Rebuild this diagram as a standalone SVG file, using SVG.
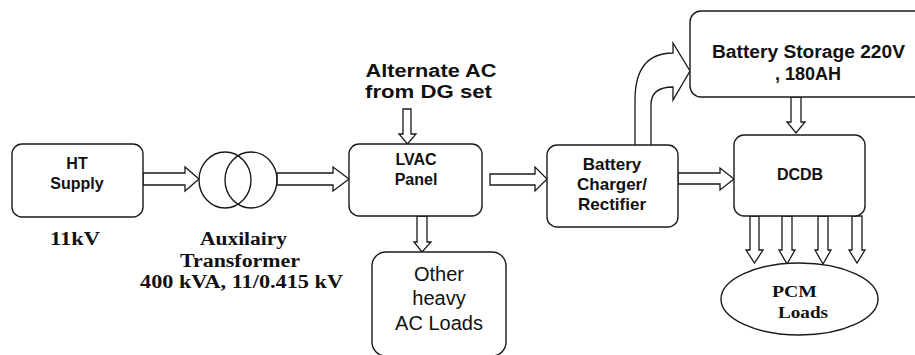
<svg xmlns="http://www.w3.org/2000/svg" width="915" height="355" viewBox="0 0 915 355">
<style>
.box{fill:#fff;stroke:#1a1a1a;stroke-width:1.4}
.arr{fill:#fff;stroke:#1a1a1a;stroke-width:1.3;stroke-linejoin:miter}
.sb{font-family:"Liberation Sans",Arial,sans-serif;font-weight:bold;fill:#111;text-anchor:middle}
.sr{font-family:"Liberation Sans",Arial,sans-serif;fill:#111;text-anchor:middle}
.tb{font-family:"Liberation Serif","Times New Roman",serif;font-weight:bold;fill:#111;text-anchor:middle}
</style>
<rect width="915" height="355" fill="#fff"/>
<g id="connectors">
<polygon class="arr" points="143,173 185,173 185,167 199,179 185,191 185,185 143,185"/>
<polygon class="arr" points="277,173 333,173 333,167 349,179 333,191 333,185 277,185"/>
<polygon class="arr" points="403,109 411,109 411,134 416,134 407.5,144 399,134 403,134"/>
<polygon class="arr" points="490,174 535,174 535,167 547,179 535,191 535,185 490,185"/>
<polygon class="arr" points="417,216 427,216 427,242 431,242 422,252 414,242 417,242"/>
<path class="arr" d="M635,145 L635,100 Q635,53 673,53 L673,43 L690,71 L673,100 L673,87 Q651,87 651,105 L651,145"/>
<polygon class="arr" points="678,173 720,173 720,168 734,179 720,190 720,184 678,184"/>
<polygon class="arr" points="791,97 801,97 801,122 805,122 796,133 787,122 791,122"/>
<polygon class="arr" points="750,216 759,216 759,250 763,250 754.5,263 746,250 750,250"/>
<polygon class="arr" points="782,216 792,216 792,250 795,250 787,264 779,250 782,250"/>
<polygon class="arr" points="818,216 828,216 828,250 831,250 823,264 815,250 818,250"/>
<polygon class="arr" points="852,216 862,216 862,250 865,250 857,263 849,250 852,250"/>
</g>
<g id="ht">
<rect class="box" x="12" y="144" width="131" height="73" rx="10"/>
<text class="sb" x="77" y="169" font-size="16">HT</text>
<text class="sb" x="77" y="189" font-size="16">Supply</text>
</g>
<g id="transformer">
<ellipse cx="225" cy="180" rx="26" ry="28" fill="none" stroke="#1a1a1a" stroke-width="1.4"/>
<ellipse cx="251" cy="180" rx="26" ry="28" fill="none" stroke="#1a1a1a" stroke-width="1.4"/>
</g>
<g id="lbl-11kv">
<text class="tb" x="75" y="245" font-size="18" textLength="50" lengthAdjust="spacingAndGlyphs">11kV</text>
</g>
<g id="lbl-transformer">
<text class="tb" x="243.5" y="245" font-size="18" textLength="87" lengthAdjust="spacingAndGlyphs">Auxilairy</text>
<text class="tb" x="240" y="267" font-size="18" textLength="120" lengthAdjust="spacingAndGlyphs">Transformer</text>
<text class="tb" x="241.5" y="288" font-size="18" textLength="203" lengthAdjust="spacingAndGlyphs">400 kVA, 11/0.415 kV</text>
</g>
<g id="dg">
<text class="sb" x="431" y="77" font-size="18" textLength="131" lengthAdjust="spacingAndGlyphs">Alternate AC</text>
<text class="sb" x="428.5" y="98" font-size="18" textLength="127" lengthAdjust="spacingAndGlyphs">from DG set</text>
</g>
<g id="lvac">
<rect class="box" x="349" y="144" width="133" height="72" rx="10"/>
<text class="sb" x="416" y="165" font-size="16">LVAC</text>
<text class="sb" x="416" y="185" font-size="16">Panel</text>
</g>
<g id="other">
<rect class="box" x="372" y="252" width="134" height="104" rx="14"/>
<text class="sr" x="439" y="281" font-size="20">Other</text>
<text class="sr" x="439" y="305" font-size="20">heavy</text>
<text class="sr" x="439" y="330" font-size="20">AC Loads</text>
</g>
<g id="charger">
<rect class="box" x="547" y="145" width="131" height="82" rx="10"/>
<text class="sb" x="612" y="170" font-size="17">Battery</text>
<text class="sb" x="612" y="190" font-size="17">Charger/</text>
<text class="sb" x="612" y="210" font-size="17">Rectifier</text>
</g>
<g id="storage">
<rect class="box" x="690" y="11" width="240" height="86" rx="11"/>
<text class="sb" x="808.5" y="58" font-size="18" textLength="193" lengthAdjust="spacingAndGlyphs">Battery Storage 220V</text>
<text class="sb" x="808" y="80" font-size="18">, 180AH</text>
</g>
<g id="dcdb">
<rect class="box" x="734" y="135" width="131" height="81" rx="10"/>
<text class="sb" x="800" y="180" font-size="16">DCDB</text>
</g>
<g id="pcm">
<ellipse cx="799.5" cy="299" rx="78.5" ry="36" fill="#fff" stroke="#1a1a1a" stroke-width="1.4"/>
<text class="tb" x="794.5" y="297" font-size="17" textLength="45" lengthAdjust="spacingAndGlyphs">PCM</text>
<text class="tb" x="803" y="318" font-size="17" textLength="50" lengthAdjust="spacingAndGlyphs">Loads</text>
</g>
</svg>
